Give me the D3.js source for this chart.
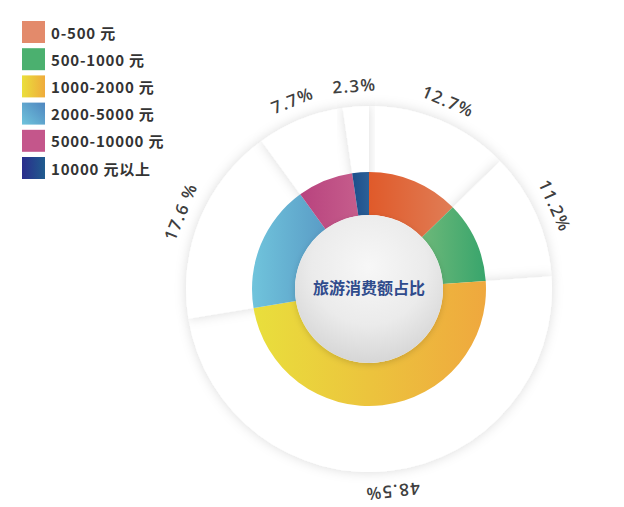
<!DOCTYPE html>
<html>
<head>
<meta charset="utf-8">
<script src="https://cdn.jsdelivr.net/npm/d3@7"></script>
<style>
  html, body { margin: 0; padding: 0; background: #fff; }
  svg { display: block; }
  text { font-family: "Open Sans", "Noto Sans", "Noto Sans CJK SC", sans-serif; }
</style>
</head>
<body>
<svg id="chart" width="624" height="507"></svg>
<script>
// data
const categories = ["0-500 元", "500-1000 元", "1000-2000 元", "2000-5000 元", "5000-10000 元", "10000 元以上"];
const shares = [12.7, 11.2, 48.5, 17.6, 7.7, 2.3];
const shareLabels = ["12.7%", "11.2%", "48.5%", "17.6 %", "7.7%", "2.3%"];
const centerTitle = "旅游消费额占比";

// slice gradient stops (left -> right) and legend swatches
const sliceColors = [
    ["#e05a2a", "#e07d56"],
    ["#6db879", "#38a56c"],
    ["#e9df3c", "#efa83e"],
    ["#70c4dc", "#5a9cc6"],
    ["#b8437e", "#c65d8c"],
    ["#1d4e8b", "#2b6097"]
];
const legendColors = [
    ["#e38a6b", "#e38a6b"],
    ["#4bb06f", "#4bb06f"],
    ["#eadf3b", "#efab3c"],
    ["#6fc4dc", "#4f86bf"],
    ["#c4568b", "#c4568b"],
    ["#2a2d8c", "#205c8e"]
];

const svg = d3.select("#chart");
const cx = 369, cy = 289;
const defs = svg.append("defs");

const shadow = defs.append("filter").attr("id", "wedgeShadow")
    .attr("x", "-20%").attr("y", "-20%").attr("width", "140%").attr("height", "140%");
shadow.append("feDropShadow")
    .attr("dx", 0).attr("dy", 0)
    .attr("stdDeviation", 6)
    .attr("flood-color", "#000")
    .attr("flood-opacity", 0.14);

const ballShadow = defs.append("filter").attr("id", "ballShadow")
    .attr("x", "-20%").attr("y", "-20%").attr("width", "140%").attr("height", "140%");
ballShadow.append("feDropShadow")
    .attr("dx", 0).attr("dy", 2)
    .attr("stdDeviation", 3)
    .attr("flood-color", "#000")
    .attr("flood-opacity", 0.15);

sliceColors.forEach((c, i) => {
    const g = defs.append("linearGradient").attr("id", "slice" + i)
        .attr("x1", "0%").attr("y1", "0%").attr("x2", "100%").attr("y2", "0%");
    g.append("stop").attr("offset", "0%").attr("stop-color", c[0]);
    g.append("stop").attr("offset", "100%").attr("stop-color", c[1]);
});
legendColors.forEach((c, i) => {
    const g = defs.append("linearGradient").attr("id", "legend" + i)
        .attr("x1", "0%").attr("y1", i === 3 ? "100%" : "0%")
        .attr("x2", "100%").attr("y2", "0%");
    g.append("stop").attr("offset", "0%").attr("stop-color", c[0]);
    g.append("stop").attr("offset", "100%").attr("stop-color", c[1]);
});

const ballGrad = defs.append("radialGradient").attr("id", "ball")
    .attr("cx", "50%").attr("cy", "35%").attr("r", "65%");
ballGrad.append("stop").attr("offset", "0%").attr("stop-color", "#f7f7f7");
ballGrad.append("stop").attr("offset", "60%").attr("stop-color", "#ebebeb");
ballGrad.append("stop").attr("offset", "100%").attr("stop-color", "#d6d6d6");

const pie = d3.pie().sort(null).value(d => d);
const arcs = pie(shares);

const root = svg.append("g").attr("transform", `translate(${cx},${cy})`);

// white outer wedges with soft shadows
const outerArc = d3.arc().innerRadius(0).outerRadius(183);
root.append("g")
    .selectAll("path")
    .data(arcs)
    .enter().append("path")
    .attr("d", outerArc)
    .attr("fill", "#fff")
    .attr("filter", "url(#wedgeShadow)");

// colored donut
const ringArc = d3.arc().innerRadius(74).outerRadius(117);
root.append("g")
    .selectAll("path")
    .data(arcs)
    .enter().append("path")
    .attr("d", ringArc)
    .attr("fill", (d, i) => `url(#slice${i})`);

// centre ball
root.append("circle")
    .attr("r", 74)
    .attr("fill", "url(#ball)")
    .attr("filter", "url(#ballShadow)");

root.append("text")
    .attr("y", -2)
    .attr("text-anchor", "middle")
    .attr("dominant-baseline", "central")
    .style("font-family", "'Noto Sans CJK SC', sans-serif")
    .style("font-weight", "bold")
    .style("font-size", "16px")
    .attr("fill", "#2f4b8c")
    .text(centerTitle);

// tangential percentage labels
const labelR = 204;
root.append("g")
    .selectAll("text")
    .data(arcs)
    .enter().append("text")
    .attr("transform", d => {
        const a = (d.startAngle + d.endAngle) / 2;
        const x = Math.sin(a) * labelR, y = -Math.cos(a) * labelR;
        return `translate(${x},${y}) rotate(${a * 180 / Math.PI})`;
    })
    .attr("text-anchor", "middle")
    .attr("dominant-baseline", "central")
    .style("font-size", "17px")
    .style("font-weight", "600")
    .style("letter-spacing", "1.3px")
    .attr("fill", "#3f3f3f")
    .text((d, i) => shareLabels[i]);

// legend
const legend = svg.append("g").attr("transform", "translate(22,21)");
const row = legend.selectAll("g")
    .data(categories)
    .enter().append("g")
    .attr("transform", (d, i) => `translate(0,${i * 27.2})`);
row.append("rect")
    .attr("width", 23).attr("height", 22)
    .attr("fill", (d, i) => `url(#legend${i})`);
row.append("text")
    .attr("x", 29).attr("y", 11)
    .attr("dominant-baseline", "central")
    .style("font-family", "'Noto Sans CJK SC', 'Noto Sans', sans-serif")
    .style("font-weight", "600")
    .style("font-size", "15px")
    .style("letter-spacing", "0.8px")
    .attr("fill", "#333")
    .text(d => d);
</script>
</body>
</html>
